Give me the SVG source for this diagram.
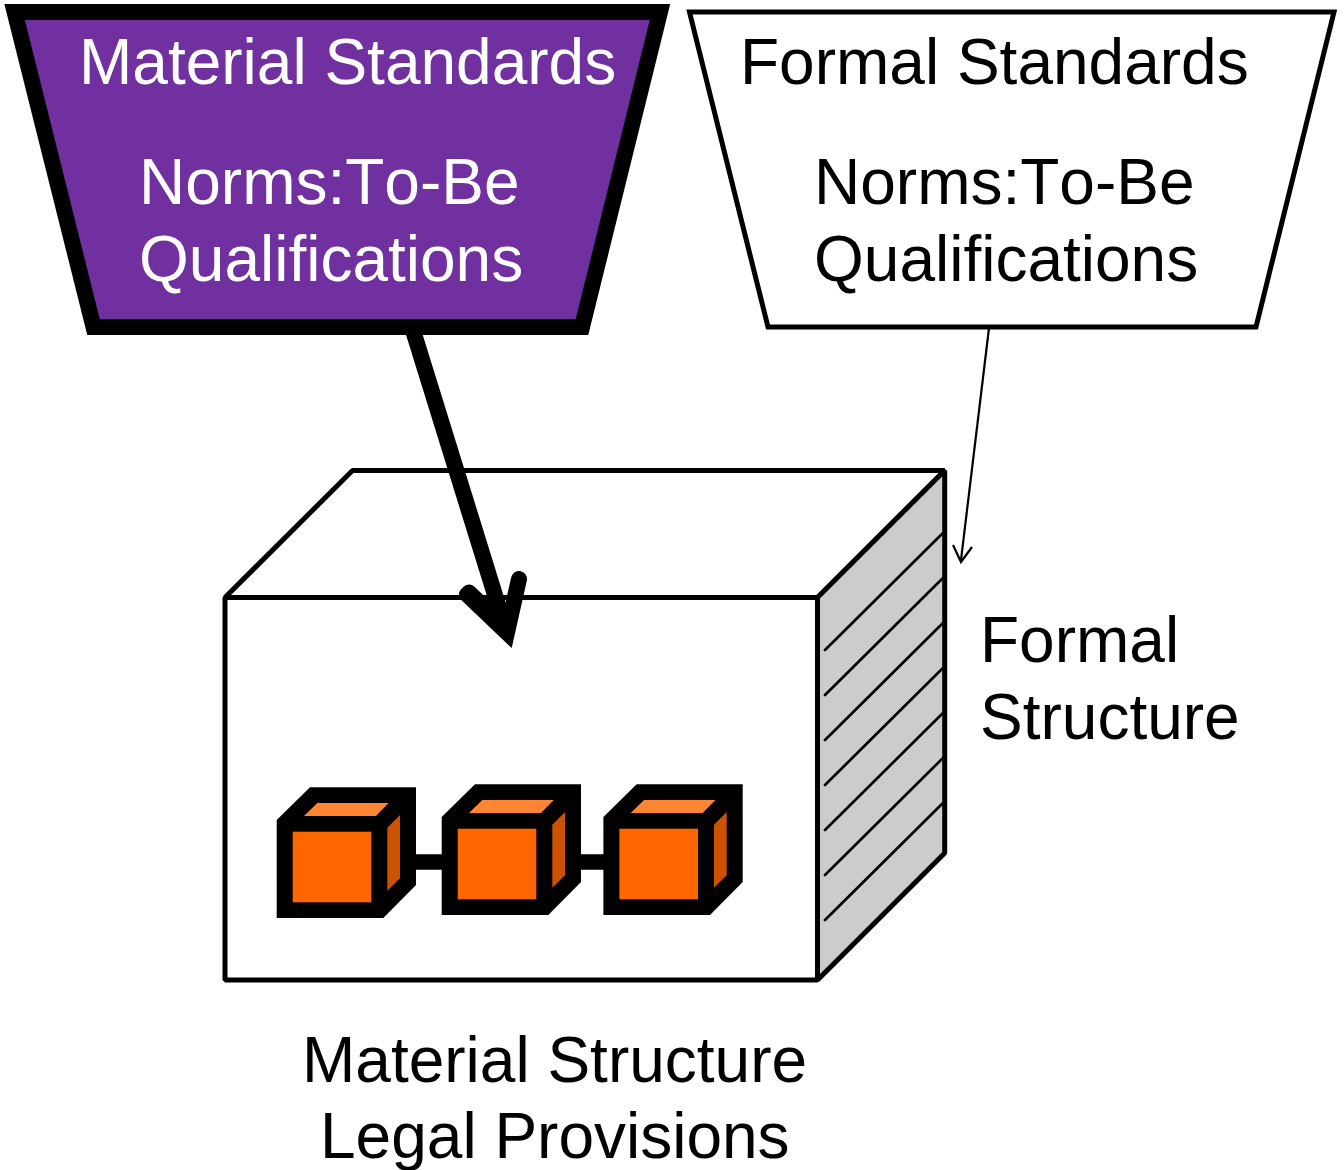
<svg xmlns="http://www.w3.org/2000/svg" width="1344" height="1170" viewBox="0 0 1344 1170">
<style>
text{font-family:"Liberation Sans",Arial,sans-serif;font-size:64px;fill:#000}
.nk{font-kerning:none}
.w{fill:#fff}
.box{fill:#fff;stroke:#000;stroke-width:5;stroke-linejoin:bevel}
.sil{fill:#000}
.cf{fill:#ff6600}
.ct{fill:#ff8533}
.cs{fill:#cc5200}
</style>
<defs>
<g id="cube">
<path class="sil" d="M276.7 820L310 787.3H416V885L383.3 918H276.7Z"/>
<rect class="cf" x="292.7" y="831.7" width="78.6" height="70.6"/>
<path class="ct" d="M304 816L317.3 803H388.7L376 816Z"/>
<path class="cs" d="M387.3 827.7L400 815V878.3L387.3 890.7Z"/>
</g>
</defs>
<rect width="1344" height="1170" fill="#fff"/>
<g id="formal-structure-box">
<path class="box" d="M225 597.5L352.5 470.5H944.7L817.5 597.5Z"/>
<path class="box" style="fill:#ccc" d="M817.5 597.5L944.7 470.5V853L817.5 980Z"/>
<rect class="box" x="225" y="597.5" width="592.5" height="382.5"/>
<path stroke="#000" stroke-width="2.7" stroke-linecap="round" fill="none" d="M825 650L945 531M825 695L945 576M825 740L945 621M825 785L945 666M825 830L945 711M825 875L945 756M825 920L945 801"/>
</g>
<g id="cubes">
<path d="M400 862H620" stroke="#000" stroke-width="15.7"/>
<use id="cube1" href="#cube"/>
<use id="cube2" href="#cube" x="165" y="-3"/>
<use id="cube3" href="#cube" x="326.7" y="-3"/>
</g>
<g id="material-standards">
<path d="M14.6 12H660L582 327H93.5Z" fill="#7030a0" stroke="#000" stroke-width="16"/>
<text class="w" x="79" y="84">Material Standards</text>
<text class="w nk" x="139" y="204">Norms:To-Be</text>
<text class="w" x="139" y="281">Qualifications</text>
</g>
<g id="formal-standards">
<path d="M689.5 12H1334L1256 327H768Z" fill="#fff" stroke="#000" stroke-width="5"/>
<text x="740" y="84">Formal Standards</text>
<text class="nk" x="814" y="204">Norms:To-Be</text>
<text x="814" y="281">Qualifications</text>
</g>
<g id="connectors" fill="none" stroke="#000">
<path d="M413.5 332L501.5 616" stroke-width="16"/>
<path d="M467 594.5L507 632.5L519 579" stroke-width="16" stroke-linecap="round" stroke-miterlimit="8"/>
<path d="M469 592.5L502 624" stroke-width="16" stroke-linecap="round"/>
<path d="M989 328L961 560" stroke-width="2.2"/>
<path d="M953 545L961 562L972 547" stroke-width="2.2"/>
</g>
<g id="labels">
<text x="980" y="662">Formal</text>
<text x="980" y="739">Structure</text>
<text x="302" y="1082">Material Structure</text>
<text x="320" y="1158">Legal Provisions</text>
</g>
</svg>
